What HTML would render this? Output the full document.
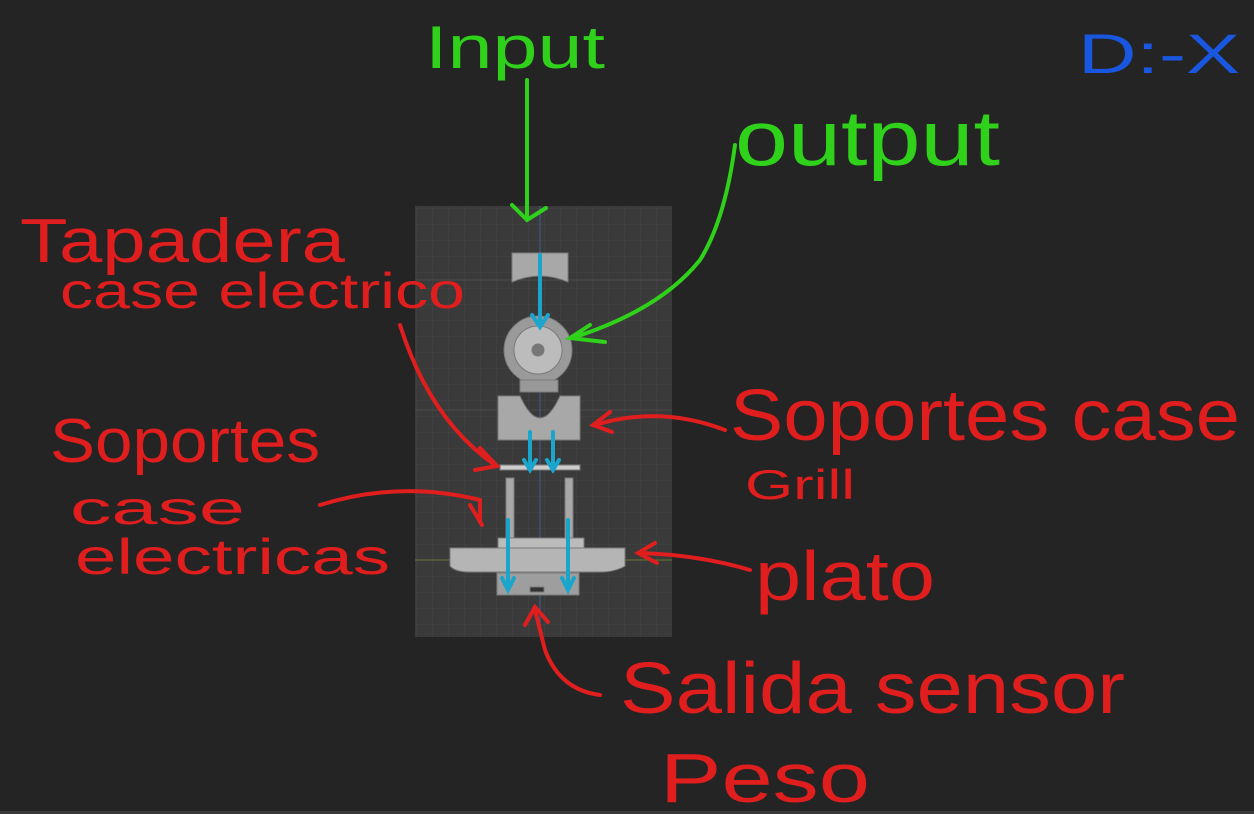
<!DOCTYPE html>
<html><head><meta charset="utf-8"><style>
html,body{margin:0;padding:0;background:#242424;}
svg{display:block}
text{font-family:"Liberation Sans",sans-serif;}
</style></head><body>
<svg width="1254" height="814" viewBox="0 0 1254 814">
<defs>
<pattern id="grid" width="16" height="16" patternUnits="userSpaceOnUse">
<path d="M16 0H0V16" fill="none" stroke="#444" stroke-width="1"/>
</pattern>
</defs>
<rect x="0" y="0" width="1254" height="814" fill="#242424"/>
<rect x="0" y="811" width="1254" height="3" fill="#3a3a3a"/>
<g>
<rect x="415" y="206" width="257" height="431" fill="#3a3a3a"/>
<rect x="415" y="206" width="257" height="431" fill="url(#grid)"/>
<line x1="415" y1="280" x2="672" y2="280" stroke="#4a4a4a"/>
<line x1="415" y1="410" x2="672" y2="410" stroke="#4a4a4a"/>
<line x1="540" y1="206" x2="540" y2="637" stroke="#3f5f95" stroke-width="1"/>
<line x1="415" y1="560" x2="672" y2="560" stroke="#6a7a30" stroke-width="1"/>
</g>
<g fill="#a8a8a8" stroke="#7a7a7a">
<path d="M512 253 H568 V282 Q540 270 512 282 Z"/>
<circle cx="538" cy="350" r="34" fill="#9a9a9a"/>
<circle cx="538" cy="350" r="24" fill="#bcbcbc"/>
<circle cx="538" cy="350" r="6" fill="#777"/>
<path d="M520 380 H558 V392 H520 Z" fill="#999"/>
<path d="M498 396 H520 Q540 440 560 396 H580 V440 H498 Z"/>
<path d="M500 465 H580 V470 H500 Z" fill="#ccc"/>
<rect x="506" y="478" width="8" height="62"/>
<rect x="565" y="478" width="8" height="62"/>
<rect x="498" y="538" width="86" height="10" fill="#bbb"/>
<path d="M450 548 H625 V566 Q615 572 600 572 H470 Q455 572 450 566 Z" fill="#b5b5b5"/>
<rect x="497" y="573" width="82" height="22" fill="#9e9e9e"/>
<rect x="530" y="587" width="14" height="5" fill="#333"/>
</g>
<g stroke="#1aa6cc" stroke-width="4" fill="none" stroke-linecap="round">
<path d="M540 255 V325 M532 315 L540 327 L548 315"/>
<path d="M530 432 V468 M524 460 L530 470 L536 460"/>
<path d="M553 432 V468 M547 460 L553 470 L559 460"/>
<path d="M508 520 V588 M502 578 L508 590 L514 578"/>
<path d="M568 520 V588 M562 578 L568 590 L574 578"/>
</g>
<g fill="#2fd11a">
<text x="425" y="68" font-size="60" textLength="180" lengthAdjust="spacingAndGlyphs">Input</text>
<text x="735" y="165" font-size="78" textLength="265" lengthAdjust="spacingAndGlyphs">output</text>
</g>
<g stroke="#2fd11a" stroke-width="4" fill="none" stroke-linecap="round">
<path d="M527 80 V218 M512 205 L527 220 L546 208"/>
<path d="M735 145 Q725 220 700 260 Q660 310 572 338 M590 325 L570 338 L605 342"/>
</g>
<text x="1078" y="73" font-size="56" fill="#1a57e0" textLength="162" lengthAdjust="spacingAndGlyphs">D:-X</text>
<g fill="#e01e1e">
<text x="20" y="262" font-size="62" textLength="325" lengthAdjust="spacingAndGlyphs">Tapadera</text>
<text x="60" y="308" font-size="50" textLength="405" lengthAdjust="spacingAndGlyphs">case electrico</text>
<text x="50" y="462" font-size="62" textLength="270" lengthAdjust="spacingAndGlyphs">Soportes</text>
<text x="70" y="524" font-size="46" textLength="175" lengthAdjust="spacingAndGlyphs">case</text>
<text x="75" y="574" font-size="50" textLength="315" lengthAdjust="spacingAndGlyphs">electricas</text>
<text x="730" y="440" font-size="72" textLength="510" lengthAdjust="spacingAndGlyphs">Soportes case</text>
<text x="745" y="499" font-size="42" textLength="110" lengthAdjust="spacingAndGlyphs">Grill</text>
<text x="755" y="600" font-size="70" textLength="180" lengthAdjust="spacingAndGlyphs">plato</text>
<text x="620" y="713" font-size="72" textLength="505" lengthAdjust="spacingAndGlyphs">Salida sensor</text>
<text x="660" y="802" font-size="70" textLength="210" lengthAdjust="spacingAndGlyphs">Peso</text>
</g>
<g stroke="#e01e1e" stroke-width="4" fill="none" stroke-linecap="round">
<path d="M400 325 Q430 420 495 465 M480 448 L497 466 L475 470"/>
<path d="M320 505 Q400 480 480 500 V522 M470 505 L482 525"/>
<path d="M725 430 Q660 405 595 425 M610 412 L593 425 L612 432"/>
<path d="M750 570 Q700 555 640 553 M655 543 L638 553 L657 563"/>
<path d="M600 695 Q560 690 545 650 Q540 630 535 610 M525 625 L535 607 L548 622"/>
</g>
</svg>
</body></html>
